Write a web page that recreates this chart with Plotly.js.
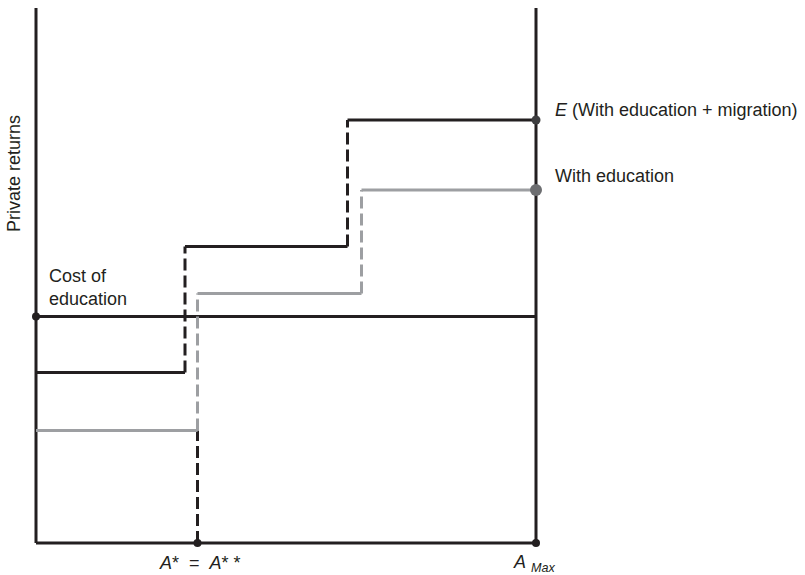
<!DOCTYPE html>
<html>
<head>
<meta charset="utf-8">
<script src="https://cdn.plot.ly/plotly-3.0.1.min.js"></script>
<style>html,body{margin:0;padding:0;background:#fff;}#chart{width:805px;height:575px;}</style>
</head>
<body>
<div id="chart"></div>
<script>
// Ability axis (0 .. A Max = 100), private returns axis (0 .. 107)
const aMax = 100;
const aStar = 32.3;
const yTop = 107;

// Returns with education + migration (step function)
const migX = [0, 29.8, 29.8, 62.3, 62.3, 100];
const migY = [34.1, 34.1, 59.3, 59.3, 84.6, 84.6];

// Returns with education only (step function)
const eduX = [0, 32.3, 32.3, 65.1, 65.1, 100];
const eduY = [22.5, 22.5, 49.9, 49.9, 70.6, 70.6];

// Cost of education (flat)
const costX = [0, 100];
const costY = [45.3, 45.3];

const BLACK = '#231f20';
const GRAY = '#9d9fa2';
const DASH = '12px,5px';

const traces = [];
function seg(x, y, color, dash, width) {
  traces.push({x: x, y: y, type: 'scatter', mode: 'lines',
    line: {color: color, width: width || 3, dash: dash || 'solid'},
    hoverinfo: 'skip', showlegend: false, cliponaxis: false});
}
function steps(xs, ys, color) {
  for (let i = 0; i < xs.length - 1; i++) {
    const vertical = xs[i] === xs[i + 1];
    seg([xs[i], xs[i + 1]], [ys[i], ys[i + 1]], color, vertical ? DASH : 'solid');
  }
}

// frame: left axis, bottom axis, right A Max line
seg([0, 0], [0, yTop], BLACK);
seg([0, aMax], [0, 0], BLACK);
seg([aMax, aMax], [0, yTop], BLACK);

// cost of education
seg(costX, costY, BLACK);

// A* dashed drop to axis
seg([aStar, aStar], [0, eduY[0]], BLACK, DASH);

steps(eduX, eduY, GRAY);
steps(migX, migY, BLACK);

// markers
traces.push({x: [0, aStar, aMax], y: [costY[0], 0, 0], type: 'scatter', mode: 'markers',
  marker: {color: BLACK, size: 8}, hoverinfo: 'skip', showlegend: false, cliponaxis: false});
traces.push({x: [aMax], y: [migY[5]], type: 'scatter', mode: 'markers',
  marker: {color: '#3d3d3f', size: 9}, hoverinfo: 'skip', showlegend: false, cliponaxis: false});
traces.push({x: [aMax], y: [eduY[5]], type: 'scatter', mode: 'markers',
  marker: {color: '#6d6e71', size: 12}, hoverinfo: 'skip', showlegend: false, cliponaxis: false});

const font = {family: '"Liberation Sans", Arial, Helvetica, sans-serif', size: 18, color: BLACK};

// plot area 510 x 540 px: x range [-1, 101], y range [-1, 107] (5 px per unit)
const layout = {
  width: 805, height: 575,
  margin: {l: 31, r: 264, t: 8, b: 27},
  paper_bgcolor: '#fff', plot_bgcolor: '#fff',
  font: font,
  xaxis: {range: [-1, aMax + 1], showgrid: false, zeroline: false, showline: false, showticklabels: false, ticks: ''},
  yaxis: {range: [-1, yTop], showgrid: false, zeroline: false, showline: false, showticklabels: false, ticks: ''},
  showlegend: false,
  annotations: [
    {xref: 'paper', yref: 'paper', x: -0.032, y: 0.694, text: 'Private returns', textangle: -90,
      showarrow: false, xanchor: 'center', yanchor: 'middle', font: font},
    {xref: 'x', yref: 'y', x: 2.2, y: costY[0] + 1.2, text: 'Cost of<br>education', showarrow: false,
      xanchor: 'left', yanchor: 'bottom', align: 'left', font: font},
    {xref: 'paper', yref: 'paper', x: 1.0235, y: 0.811, text: '<i>E</i> (With education + migration)',
      showarrow: false, xanchor: 'left', yanchor: 'middle', font: font},
    {xref: 'paper', yref: 'paper', x: 1.0235, y: 0.689, text: 'With education',
      showarrow: false, xanchor: 'left', yanchor: 'middle', font: font},
    {xref: 'x', yref: 'paper', x: aStar + 0.4, y: -0.028, text: '<i>A</i>*  =  <i>A</i>* *',
      showarrow: false, xanchor: 'center', yanchor: 'middle', font: font},
    {xref: 'x', yref: 'paper', x: aMax - 0.4, y: -0.029, text: '<i>A</i> <sub><i>Max</i></sub>',
      showarrow: false, xanchor: 'center', yanchor: 'middle', font: font}
  ]
};

Plotly.newPlot('chart', traces, layout, {displayModeBar: false, staticPlot: true});
</script>
</body>
</html>
